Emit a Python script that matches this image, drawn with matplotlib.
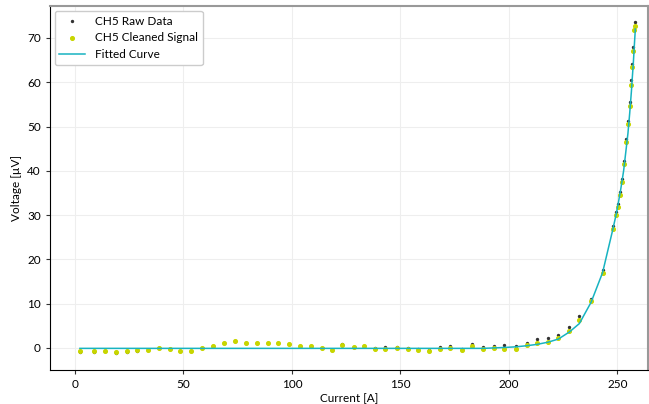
import matplotlib
matplotlib.use('Agg')
import matplotlib.pyplot as plt

plt.rcParams['font.family'] = ['Lato', 'DejaVu Sans']

# current values [A]
current = [2.3, 8.9, 13.8, 18.8, 23.8, 28.8, 33.5, 38.6, 43.7, 48.6, 53.5, 58.7,
           63.5, 68.6, 73.7, 78.7, 83.8, 88.8, 93.8, 98.8, 103.8, 108.7, 113.7,
           118.4, 123.3, 128.4, 133.3, 138.4, 143.1, 148.3, 153.4, 158.0, 163.3,
           168.2, 173.1, 178.4, 183.1, 188.0, 193.2, 197.9, 203.3, 208.3, 213.0,
           218.1, 222.8, 227.9, 232.5, 237.9, 243.2, 247.8, 249.4, 250.1, 251.4,
           252.2, 252.9, 254.2, 254.9, 255.7, 256.5, 256.9, 257.4, 257.8, 258.3]

raw = [-1.0, -1.0, -0.8, -1.2, -0.9, -0.6, -0.5, -0.1, -0.3, -0.6, -0.6, 0.0,
       0.4, 1.0, 1.6, 1.1, 1.2, 1.1, 1.1, 0.9, 0.5, 0.4, -0.1,
       -0.4, 0.8, 0.3, 0.5, 0.0, 0.1, 0.2, -0.1, -0.2, -0.4,
       0.2, 0.4, -0.2, 0.8, 0.2, 0.4, 0.6, 0.4, 1.0, 2.0,
       2.2, 2.9, 4.7, 7.1, 11.1, 17.6, 27.6, 30.8, 32.5, 35.3,
       38.2, 42.3, 47.2, 51.2, 55.5, 60.4, 64.2, 68.0, 71.9, 73.7]

cleaned = [-0.6, -0.6, -0.6, -1.0, -0.8, -0.5, -0.5, -0.1, -0.3, -0.6, -0.6, 0.0,
           0.4, 1.0, 1.6, 1.1, 1.2, 1.1, 1.1, 0.9, 0.5, 0.4, -0.1,
           -0.4, 0.6, 0.3, 0.4, -0.2, -0.2, 0.0, -0.3, -0.5, -0.7,
           -0.3, -0.1, -0.5, 0.4, -0.3, -0.1, -0.2, -0.2, 0.7, 1.2,
           1.4, 2.2, 3.8, 6.3, 10.5, 17.0, 26.8, 30.0, 31.8, 34.5,
           37.5, 41.5, 46.4, 50.5, 54.6, 59.4, 63.4, 67.0, 71.8, 72.7]

fitted = [-0.1, -0.1, -0.1, -0.1, -0.1, -0.1, -0.1, -0.1, -0.1, -0.1, -0.1, -0.1,
          -0.1, -0.1, -0.1, -0.1, -0.1, -0.1, -0.1, -0.1, -0.1, -0.1, -0.1,
          -0.1, -0.1, -0.1, -0.1, -0.1, -0.1, -0.1, -0.1, -0.1, -0.1,
          -0.1, -0.1, -0.1, -0.1, -0.1, 0.0, 0.1, 0.25, 0.5, 0.8,
          1.3, 2.0, 3.6, 5.5, 10.3, 17.0, 26.5, 30.0, 31.8, 35.3,
          37.8, 40.0, 45.5, 48.5, 53.0, 58.0, 61.0, 64.5, 68.0, 72.0]

fig = plt.figure(figsize=(6.49, 4.04), dpi=100)
ax = fig.add_axes([0.077, 0.084, 0.921, 0.901])

ax.scatter(current, raw, s=2, color='#333333', label='CH5 Raw Data', zorder=2)
ax.scatter(current, cleaned, s=7, color='#c8d600', label='CH5 Cleaned Signal', zorder=3)
ax.plot(current, fitted, color='#17b3c1', lw=1.1, label='Fitted Curve', zorder=4)

ax.set_xlim(-11.5, 264)
ax.set_ylim(-5, 77.2)
ax.set_xticks([0, 50, 100, 150, 200, 250])
ax.set_yticks([0, 10, 20, 30, 40, 50, 60, 70])
ax.tick_params(labelsize=8.5, length=3, color='#333333')
ax.grid(True, color='#eeeeee', lw=0.8)
ax.set_axisbelow(True)
ax.set_xlabel('Current [A]', fontsize=8.5, labelpad=2)
ax.set_ylabel('Voltage [µV]', fontsize=8.5)
for s in ['top', 'right']:
    ax.spines[s].set_color('#999999')
    ax.spines[s].set_linewidth(1.5)

ax.legend(loc='upper left', fontsize=8.5, markerscale=1.0, handlelength=2.2,
          borderaxespad=0.4, framealpha=1, edgecolor='#cccccc')

fig.savefig('out.png', dpi=100)
